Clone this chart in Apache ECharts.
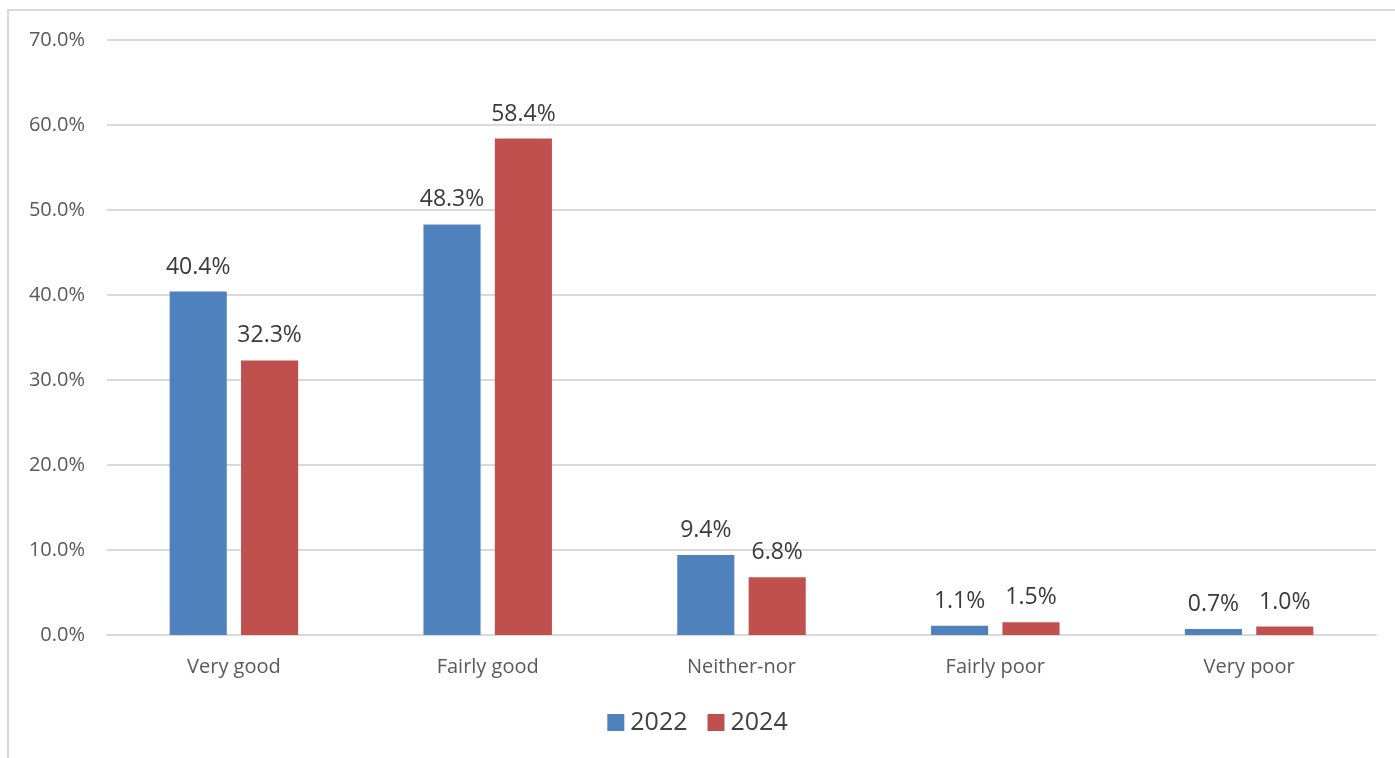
<!DOCTYPE html>
<html>
<head>
<meta charset="utf-8">
<style>
  html, body { margin: 0; padding: 0; background: #fff; }
  #chart { width: 1395px; height: 758px; }
</style>
<script src="https://cdn.jsdelivr.net/npm/echarts@6/dist/echarts.min.js"></script>
</head>
<body>
<div id="chart"></div>
<script>
const categories = ['Very good', 'Fairly good', 'Neither-nor', 'Fairly poor', 'Very poor'];
const values2022 = [40.4, 48.3, 9.4, 1.1, 0.7];
const values2024 = [32.3, 58.4, 6.8, 1.5, 1.0];
const seriesNames = ['2022', '2024'];
const colors = ['#4F81BD', '#C0504D'];

const font = '"Open Sans", "Liberation Sans", sans-serif';

const chart = echarts.init(document.getElementById('chart'), null, { renderer: 'canvas' });

const labelStyle = {
  show: true,
  position: 'top',
  distance: 13,
  formatter: p => p.value.toFixed(1) + '%',
  color: '#3a3a3a',
  fontSize: 23,
  fontFamily: font
};

chart.setOption({
  animation: false,
  color: colors,
  graphic: [{
    type: 'rect',
    shape: { x: 8, y: 10, width: 1400, height: 760 },
    style: { fill: 'none', stroke: '#d9d9d9', lineWidth: 2 },
    silent: true
  }],
  grid: { left: 107, right: 19, top: 40, bottom: 123, containLabel: false },
  legend: {
    data: seriesNames,
    bottom: 18,
    left: 'center',
    itemWidth: 17,
    itemHeight: 17,
    itemGap: 20,
    icon: 'rect',
    textStyle: { color: '#404040', fontSize: 25, fontFamily: font, padding: [0, 0, 0, 1] }
  },
  xAxis: {
    type: 'category',
    data: categories,
    axisLine: { show: true, lineStyle: { color: '#d9d9d9', width: 2 } },
    axisTick: { show: false },
    axisLabel: { color: '#595959', fontSize: 20, fontFamily: font, margin: 22 }
  },
  yAxis: {
    type: 'value',
    min: 0,
    max: 70,
    interval: 10,
    axisLine: { show: false },
    axisTick: { show: false },
    splitLine: { lineStyle: { color: '#d9d9d9', width: 2 } },
    axisLabel: {
      color: '#595959', fontSize: 20, fontFamily: font, margin: 22,
      formatter: v => v.toFixed(1) + '%'
    }
  },
  series: [
    {
      name: seriesNames[0], type: 'bar', data: values2022,
      barWidth: '22.5%', barGap: '25%',
      itemStyle: { color: colors[0] },
      label: labelStyle
    },
    {
      name: seriesNames[1], type: 'bar', data: values2024,
      barWidth: '22.5%', barGap: '25%',
      itemStyle: { color: colors[1] },
      label: labelStyle
    }
  ]
});
</script>
</body>
</html>
